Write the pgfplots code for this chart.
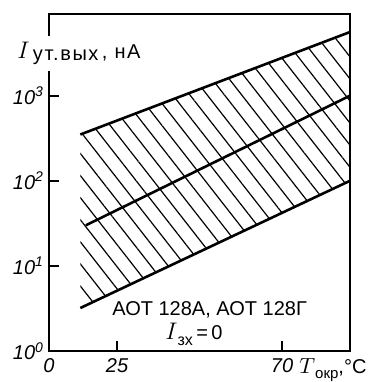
\documentclass[border=0pt]{standalone}
\usepackage{fontspec}
\setmainfont{Liberation Sans}
\usepackage{pgfplots}
\pgfplotsset{compat=1.18}
\usepgfplotslibrary{fillbetween}
\usetikzlibrary{patterns.meta}
\begin{document}
\begin{tikzpicture}
\begin{axis}[
  at={(0,0)}, anchor=south west,
  scale only axis, width=150.5pt, height=168.5pt,
  ymode=log, log basis y=10,
  xmin=6.46, xmax=88.5, ymin=1, ymax=9120,
  xtick={6.46,25,70}, xticklabels={0,25,70},
  ytick={1,10,100,1000},
  yticklabels={\textit{10}\textsuperscript{\itshape 0},\textit{10}\textsuperscript{\itshape 1},\textit{10}\textsuperscript{\itshape 2},\textit{10}\textsuperscript{\itshape 3}},
  yminorticks=false, xminorticks=false,
  tick pos=left, tick align=inside,
  major tick length=5pt,
  tick style={black, line width=0.8pt},
  axis line style={line width=1.2pt},
  ticklabel style={font=\fontsize{10}{12}\selectfont\itshape},
  yticklabel style={xshift=1pt},
]
\addplot[draw=none, name path=U] coordinates {(15,350) (88.5,5600)};
\addplot[draw=none, name path=L] coordinates {(15,3.2) (88.5,100)};
\addplot[pattern={Lines[angle=-52, distance=6.8pt, line width=0.6pt]}] fill between[of=U and L];
\addplot[black, line width=1.3pt] coordinates {(15,350) (88.5,5600)};
\addplot[black, line width=1.3pt] coordinates {(16.5,30) (88.5,1000)};
\addplot[black, line width=1.3pt] coordinates {(15,3.2) (88.5,100)};
\end{axis}
\node[anchor=base west, fill=white, inner xsep=1pt, inner ysep=3pt, font=\fontsize{10}{12}\selectfont\addfontfeatures{LetterSpace=8}] at (-17pt,146.5pt) {{\fontsize{12}{14}\selectfont$I$}\,\raisebox{-0.25ex}{ут.вых}\,, нА};
\node[anchor=base west, inner sep=0pt, font=\fontsize{10}{12}\selectfont] at (125pt,-11pt) {{\fontsize{11}{13}\selectfont$T$}\raisebox{-0.5ex}{\fontsize{7.5}{9}\selectfont окр},°C};
\node[anchor=base west, inner sep=0pt, font=\fontsize{10}{12}\selectfont] at (31.5pt,18pt) {АОТ 128А, АОТ 128Г};
\node[anchor=base west, inner sep=0pt, font=\fontsize{10}{12}\selectfont] at (58pt,5.5pt) {{\fontsize{12}{14}\selectfont$I$}\raisebox{-0.5ex}{\fontsize{8}{9}\selectfont зх}\,=\,0};
\path (-24.5pt,-15.5pt) rectangle (160pt,175.5pt);
\end{tikzpicture}
\end{document}
